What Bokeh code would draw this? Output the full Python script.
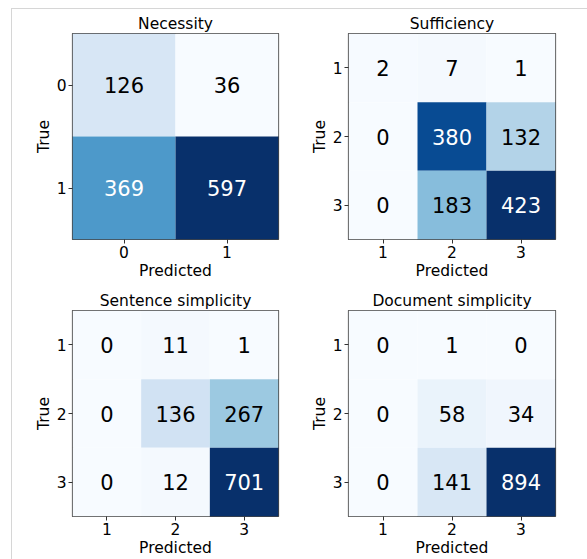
from bokeh.plotting import figure
from bokeh.layouts import column, row
from bokeh.models import ColumnDataSource, FactorRange, LinearColorMapper
from bokeh.palettes import Blues256
from bokeh.core.properties import value
from bokeh.embed import file_html
from bokeh.resources import INLINE

# Confusion matrices: rows = true class, columns = predicted class
necessity_labels = ["0", "1"]
necessity_counts = [[126, 36],
                    [369, 597]]

sufficiency_labels = ["1", "2", "3"]
sufficiency_counts = [[2, 7, 1],
                      [0, 380, 132],
                      [0, 183, 423]]

sentence_labels = ["1", "2", "3"]
sentence_counts = [[0, 11, 1],
                   [0, 136, 267],
                   [0, 12, 701]]

document_labels = ["1", "2", "3"]
document_counts = [[0, 1, 0],
                   [0, 58, 34],
                   [0, 141, 894]]

FONT = "DejaVu Sans"
LABEL_SIZE = "15.5px"
BLUES = tuple(reversed(Blues256))  # light -> dark


def confusion_panel(title, labels, counts, borders, frame=206):
    left, right, top, bottom = borders
    flat = [v for r in counts for v in r]
    lo, hi = min(flat), max(flat)
    thresh = (lo + hi) / 2.0

    xs, ys, vals, txt, tcol = [], [], [], [], []
    for i, true_lab in enumerate(labels):
        for j, pred_lab in enumerate(labels):
            v = counts[i][j]
            xs.append(pred_lab)
            ys.append(true_lab)
            vals.append(v)
            txt.append(str(v))
            tcol.append("white" if v > thresh else "black")
    src = ColumnDataSource(dict(x=xs, y=ys, v=vals, t=txt, c=tcol))

    p = figure(
        x_range=FactorRange(*labels),
        y_range=FactorRange(*reversed(labels)),
        frame_width=frame, frame_height=206,
        min_border_left=left, min_border_right=right,
        min_border_top=top, min_border_bottom=bottom,
        output_backend="svg", toolbar_location=None, tools="",
        title=title,
    )
    mapper = LinearColorMapper(palette=BLUES, low=lo, high=hi)
    p.rect(x="x", y="y", width=1, height=1, source=src,
           fill_color={"field": "v", "transform": mapper},
           line_color=None)
    p.text(x="x", y="y", text="t", source=src, text_color="c",
           text_align="center", text_baseline="middle",
           text_font=value(FONT), text_font_size="21px")

    p.title.align = "center"
    p.title.text_font = FONT
    p.title.text_font_size = LABEL_SIZE
    p.title.text_font_style = "normal"
    p.title.text_color = "black"
    p.title.standoff = 2

    p.xaxis.axis_label = "Predicted"
    p.yaxis.axis_label = "True"
    for ax in (p.xaxis[0], p.yaxis[0]):
        ax.axis_label_text_font = FONT
        ax.axis_label_text_font_size = LABEL_SIZE
        ax.axis_label_text_font_style = "normal"
        ax.axis_label_text_color = "black"
        ax.major_label_text_font = FONT
        ax.major_label_text_font_size = LABEL_SIZE
        ax.major_label_text_color = "black"
        ax.major_tick_in = 0
        ax.major_tick_out = 4
        ax.major_tick_line_color = "#333333"
        ax.axis_line_color = None
        ax.major_label_standoff = 2
        ax.axis_label_standoff = 1
    p.yaxis.major_label_orientation = "horizontal"

    p.grid.visible = False
    p.outline_line_color = "#444444"
    p.outline_line_width = 1.2
    p.background_fill_color = None
    p.border_fill_color = None
    return p


p1 = confusion_panel("Necessity", necessity_labels, necessity_counts,
                     (72, 4, 33, 41))
p2 = confusion_panel("Sufficiency", sufficiency_labels, sufficiency_counts,
                     (66, 32, 33, 41), frame=207)
p3 = confusion_panel("Sentence simplicity", sentence_labels, sentence_counts,
                     (72, 4, 28, 42))
p4 = confusion_panel("Document simplicity", document_labels, document_counts,
                     (66, 32, 28, 42), frame=207)

frame_line = "#d6d6d6"
layout = column(
    row(p1, p2, spacing=0),
    row(p3, p4, spacing=0),
    spacing=0,
    styles={
        "background-color": "white",
        "background-image": f"linear-gradient({frame_line},{frame_line}), "
                            f"linear-gradient({frame_line},{frame_line})",
        "background-size": "1px 100%, 100% 1px",
        "background-position": "11px 8px, 11px 8px",
        "background-repeat": "no-repeat",
    },
)

with open("out.html", "w") as f:
    f.write(file_html(layout, INLINE))
